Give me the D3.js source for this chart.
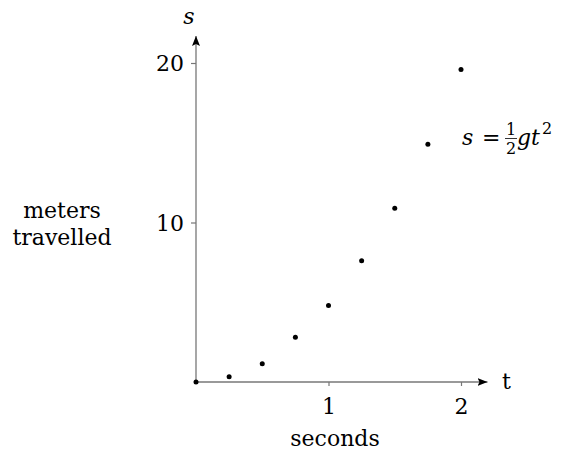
<!DOCTYPE html>
<html>
<head>
<meta charset="utf-8">
<script src="https://cdn.jsdelivr.net/npm/d3@7"></script>
<style>
  body { margin: 0; background: #fff; }
  svg text { font-family: "DejaVu Serif", "Liberation Serif", serif; fill: #000; }
</style>
</head>
<body>
<div id="chart"></div>
<script>
// Data
const times = [0, 0.25, 0.5, 0.75, 1, 1.25, 1.5, 1.75, 2];
const distances = [0, 0.33, 1.15, 2.8, 4.8, 7.6, 10.9, 14.9, 19.6];
const xTicks = [1, 2];
const yTicks = [10, 20];

const width = 569;
const height = 452;
const fs = 22;
const serif = "DejaVu Serif";

const svg = d3.select("#chart").append("svg")
    .attr("width", width)
    .attr("height", height);

// Scales
const x = d3.scaleLinear().domain([0, 2]).range([196, 461]);
const y = d3.scaleLinear().domain([0, 20]).range([382, 63]);

// Arrow head
svg.append("defs").append("marker")
    .attr("id", "arrow")
    .attr("viewBox", "0 0 10 8")
    .attr("refX", 10).attr("refY", 4)
    .attr("markerWidth", 10).attr("markerHeight", 8)
    .attr("markerUnits", "userSpaceOnUse")
    .attr("orient", "auto")
  .append("path")
    .attr("d", "M0,0 L10,4 L0,8 L2,4 Z")
    .attr("fill", "#000");

// Axis lines
svg.append("line")
    .attr("x1", x(0)).attr("y1", y(0))
    .attr("x2", x(2.2)).attr("y2", y(0))
    .attr("stroke", "#777").attr("stroke-width", 1.3)
    .attr("marker-end", "url(#arrow)");

svg.append("line")
    .attr("x1", x(0)).attr("y1", y(0))
    .attr("x2", x(0)).attr("y2", y(21.7))
    .attr("stroke", "#777").attr("stroke-width", 1.3)
    .attr("marker-end", "url(#arrow)");

// Axes ticks and labels
const xAxis = svg.append("g")
    .attr("transform", `translate(0,${y(0)})`)
    .call(d3.axisBottom(x).tickValues(xTicks).tickSize(4).tickFormat(d3.format("d")));

const yAxis = svg.append("g")
    .attr("transform", `translate(${x(0)},0)`)
    .call(d3.axisLeft(y).tickValues(yTicks).tickSize(5).tickFormat(d3.format("d")));

[xAxis, yAxis].forEach(a => {
    a.attr("font-family", serif).attr("font-size", fs);
    a.select(".domain").remove();
    a.selectAll(".tick line").attr("stroke", "#777").attr("stroke-width", 1.2);
    a.selectAll(".tick text").attr("fill", "#000");
});
xAxis.selectAll(".tick text").attr("y", 32).attr("dy", 0);
yAxis.selectAll(".tick text").attr("x", -12).attr("dy", "0.36em");

// Points
svg.append("g")
    .selectAll("circle")
    .data(times.map((t, i) => ({t, s: distances[i]})))
    .enter().append("circle")
    .attr("cx", d => x(d.t))
    .attr("cy", d => y(d.s))
    .attr("r", 2.5)
    .attr("fill", "#000");

// Axis names
svg.append("text")
    .attr("x", 189).attr("y", 24)
    .attr("text-anchor", "middle")
    .attr("font-style", "italic")
    .attr("font-size", fs)
    .text("s");

svg.append("text")
    .attr("x", 502).attr("y", 389)
    .attr("font-size", fs)
    .text("t");

svg.append("text")
    .attr("x", 335).attr("y", 446)
    .attr("text-anchor", "middle")
    .attr("font-size", fs)
    .text("seconds");

const yLabel = svg.append("text")
    .attr("text-anchor", "middle")
    .attr("font-size", fs);
yLabel.append("tspan").attr("x", 62).attr("y", 218).text("meters");
yLabel.append("tspan").attr("x", 62).attr("y", 245).text("travelled");

// Formula s = 1/2 g t^2
const f = svg.append("g").attr("font-size", fs);
f.append("text").attr("x", 462).attr("y", 145)
    .attr("font-style", "italic").text("s");
f.append("text").attr("x", 482).attr("y", 145).text("=");
f.append("text").attr("x", 511).attr("y", 135)
    .attr("text-anchor", "middle").attr("font-size", 16).text("1");
f.append("line")
    .attr("x1", 505).attr("x2", 517).attr("y1", 138.5).attr("y2", 138.5)
    .attr("stroke", "#000").attr("stroke-width", 0.8);
f.append("text").attr("x", 511).attr("y", 154)
    .attr("text-anchor", "middle").attr("font-size", 16).text("2");
f.append("text").attr("x", 517).attr("y", 145)
    .attr("font-style", "italic").text("gt");
f.append("text").attr("x", 542).attr("y", 134)
    .attr("font-size", 16).text("2");
</script>
</body>
</html>
